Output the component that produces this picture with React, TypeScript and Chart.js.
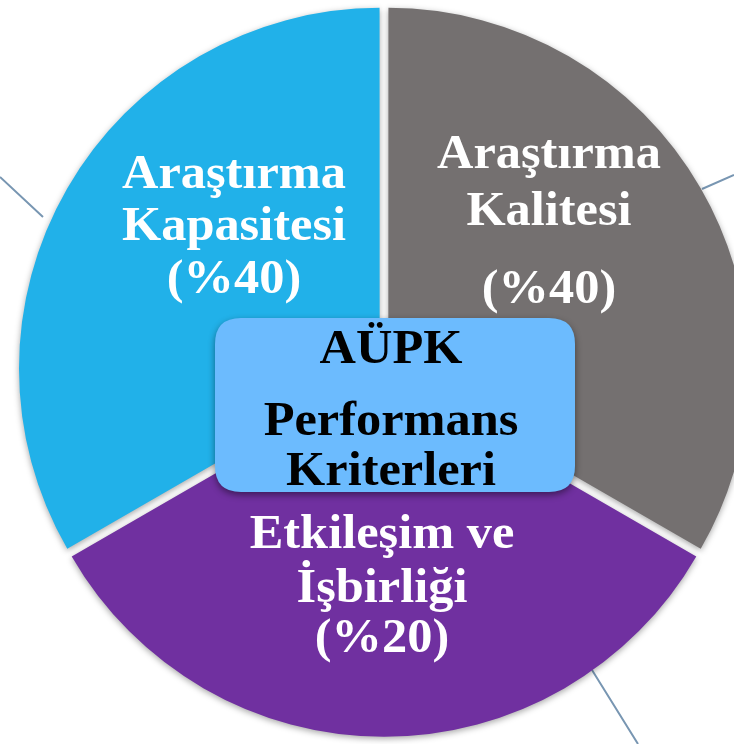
import React, { useEffect, useRef } from "react";
import { Chart, registerables } from "chart.js";

Chart.register(...registerables);

// Slices in drawing order (clockwise from 12 o'clock)
const categories = ["Araştırma Kalitesi", "Etkileşim ve İşbirliği", "Araştırma Kapasitesi"];
const sliceShares = [33.3, 33.3, 33.3];
const labelLines = [
  ["Araştırma", "Kalitesi"],
  ["Etkileşim ve", "İşbirliği"],
  ["Araştırma", "Kapasitesi"],
];
const percentLabels = ["(%40)", "(%20)", "(%40)"];
const centerTitle = ["AÜPK", "Performans", "Kriterleri"];
const sliceColors = ["#747070", "#7030A0", "#21B1E9"];

const FONT = 'bold 48px "Liberation Serif", "DejaVu Serif", serif';
const STRETCH = 1.05;

function drawText(ctx: CanvasRenderingContext2D, text: string, x: number, y: number, color: string) {
  ctx.save();
  ctx.translate(x, y);
  ctx.scale(STRETCH, 1);
  ctx.font = FONT;
  ctx.fillStyle = color;
  ctx.textAlign = "center";
  ctx.textBaseline = "alphabetic";
  ctx.fillText(text, 0, 0);
  ctx.restore();
}

function roundRect(ctx: CanvasRenderingContext2D, x: number, y: number, w: number, h: number, r: number) {
  ctx.beginPath();
  ctx.moveTo(x + r, y);
  ctx.lineTo(x + w - r, y);
  ctx.quadraticCurveTo(x + w, y, x + w, y + r);
  ctx.lineTo(x + w, y + h - r);
  ctx.quadraticCurveTo(x + w, y + h, x + w - r, y + h);
  ctx.lineTo(x + r, y + h);
  ctx.quadraticCurveTo(x, y + h, x, y + h - r);
  ctx.lineTo(x, y + r);
  ctx.quadraticCurveTo(x, y, x + r, y);
  ctx.closePath();
}

const decorPlugin = {
  id: "decor",
  beforeDatasetsDraw(chart: any) {
    const ctx: CanvasRenderingContext2D = chart.ctx;
    const { width, height } = chart;
    // connector lines (decoration)
    ctx.save();
    ctx.strokeStyle = "#7896B2";
    ctx.lineWidth = 2;
    ctx.beginPath();
    ctx.moveTo(0, 177);
    ctx.lineTo(43, 217);
    ctx.moveTo(702, 189);
    ctx.lineTo(width, 175);
    ctx.moveTo(592, 670);
    ctx.lineTo(638, height);
    ctx.stroke();
    ctx.restore();
    ctx.save();
    ctx.shadowColor = "rgba(0,0,0,0.35)";
    ctx.shadowBlur = 6;
    ctx.shadowOffsetX = 0;
    ctx.shadowOffsetY = 2;
  },
  afterDatasetsDraw(chart: any) {
    const ctx: CanvasRenderingContext2D = chart.ctx;
    ctx.restore();
    const arc = chart.getDatasetMeta(0).data[0];
    const cx = arc.x;
    const cy = arc.y - 1;

    // slice labels
    const pos = [
      { x: cx + 165, ys: [cy - 202, cy - 145, cy - 67] },
      { x: cx - 2, ys: [cy + 178, cy + 232, cy + 282] },
      { x: cx - 150, ys: [cy - 182, cy - 130, cy - 77] },
    ];
    categories.forEach((_, i) => {
      const lines = [...labelLines[i], percentLabels[i]];
      lines.forEach((t, j) => drawText(ctx, t, pos[i].x, pos[i].ys[j], "#FFFFFF"));
    });

    // center box
    ctx.save();
    ctx.shadowColor = "rgba(0,0,0,0.45)";
    ctx.shadowBlur = 7;
    ctx.shadowOffsetY = 3;
    roundRect(ctx, cx - 169, cy - 52, 360, 174, 26);
    ctx.fillStyle = "#6CBBFE";
    ctx.fill();
    ctx.restore();
    const tys = [cy - 7, cy + 65, cy + 115];
    centerTitle.forEach((t, j) => drawText(ctx, t, cx + 7, tys[j], "#000000"));
  },
};

export default function App() {
  const ref = useRef<HTMLCanvasElement>(null);
  useEffect(() => {
    document.body.style.margin = "0";
    const chart = new Chart(ref.current as HTMLCanvasElement, {
      type: "pie",
      data: {
        labels: categories,
        datasets: [
          {
            data: sliceShares,
            backgroundColor: sliceColors,
            borderWidth: 0,
            offset: 20,
          } as any,
        ],
      },
      options: {
        responsive: false,
        animation: false,
        radius: 360,
        layout: { padding: { left: 34, right: 0, top: 0, bottom: 2 } },
        plugins: { legend: { display: false }, tooltip: { enabled: false } },
        events: [],
      } as any,
      plugins: [decorPlugin],
    });
    return () => chart.destroy();
  }, []);
  return (
    <div style={{ width: 734, height: 744, background: "#FFFFFF" }}>
      <canvas ref={ref} width={734} height={744} style={{ display: "block" }} />
    </div>
  );
}
